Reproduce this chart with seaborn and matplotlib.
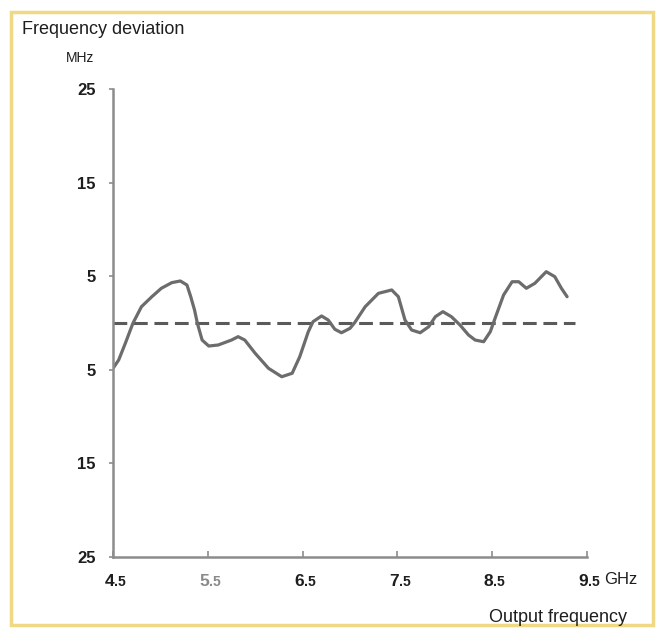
import matplotlib
matplotlib.use("Agg")
import matplotlib.pyplot as plt
from matplotlib.patches import Rectangle
import seaborn as sns
import pandas as pd

# Measured deviation across the output band
freq_ghz = [4.49, 4.56, 4.63, 4.71, 4.80, 4.91, 5.01, 5.12, 5.21, 5.28, 5.32,
            5.36, 5.39, 5.44, 5.51, 5.61, 5.75, 5.82, 5.89, 6.00, 6.14, 6.28,
            6.39, 6.47, 6.56, 6.61, 6.70, 6.77, 6.84, 6.91, 7.00, 7.05, 7.16,
            7.30, 7.44, 7.51, 7.58, 7.65, 7.74, 7.83, 7.90, 7.98, 8.07, 8.16,
            8.25, 8.32, 8.41, 8.48, 8.53, 8.62, 8.71, 8.78, 8.86, 8.95, 9.07,
            9.16, 9.23, 9.29]
deviation_mhz = [-5.0, -3.95, -2.17, -0.03, 1.74, 2.81, 3.71, 4.31, 4.49, 4.06,
                 2.81, 1.39, -0.03, -1.82, -2.46, -2.35, -1.82, -1.46, -1.82,
                 -3.24, -4.84, -5.74, -5.37, -3.60, -0.93, 0.14, 0.75, 0.32,
                 -0.67, -1.04, -0.57, 0.05, 1.74, 3.17, 3.53, 2.81, 0.32, -0.75,
                 -1.04, -0.40, 0.67, 1.21, 0.67, -0.21, -1.28, -1.82, -2.00,
                 -0.93, 0.50, 2.99, 4.41, 4.41, 3.71, 4.24, 5.48, 4.95, 3.71,
                 2.81]

reference_x = [4.5, 9.37]
reference_y = [0.0, 0.0]

y_ticks = [25, 15, 5, -5, -15, -25]
y_tick_labels = ["25", "15", "5", "5", "15", "25"]
x_ticks = [4.5, 5.5, 6.5, 7.5, 8.5, 9.5]
x_tick_whole = ["4", "5", "6", "7", "8", "9"]
x_tick_frac = [".5", ".5", ".5", ".5", ".5", ".5"]

sns.set_theme(style="white")
plt.rcParams["font.family"] = ["Liberation Sans", "DejaVu Sans"]

INK = "#1e1e1e"
AXIS = "#8c8c8c"

W, H = 665, 628
fig = plt.figure(figsize=(W / 100, H / 100), dpi=100)
fig.patch.set_facecolor("white")

ax = fig.add_axes([113 / W, (H - 557) / H, (587 - 113) / W, (557 - 89) / H])
ax.set_facecolor("none")

curve = pd.DataFrame({"freq": freq_ghz, "dev": deviation_mhz})
ref = pd.DataFrame({"freq": reference_x, "dev": reference_y})

sns.lineplot(data=ref, x="freq", y="dev", ax=ax, color="#5a5a5a",
             linewidth=2.2, linestyle=(0, (4.5, 2.2)))
sns.lineplot(data=curve, x="freq", y="dev", ax=ax, color="#6c6c6c",
             linewidth=2.3, solid_capstyle="round", solid_joinstyle="round")

ax.set_xlim(4.5, 9.5)
ax.set_ylim(-25, 25)
ax.set_xlabel("")
ax.set_ylabel("")

for side in ["top", "right"]:
    ax.spines[side].set_visible(False)
for side in ["left", "bottom"]:
    ax.spines[side].set_color(AXIS)
    ax.spines[side].set_linewidth(1.8)

ax.set_yticks(y_ticks)
ax.set_yticklabels(y_tick_labels, fontsize=12, fontweight="bold", color=INK)
ax.tick_params(axis="y", direction="out", length=3, width=1.2, color=AXIS,
               pad=9.5, left=True)

# X tick labels: large whole number followed by a smaller ".5"
ax.set_xticks(x_ticks)
ax.set_xticklabels([])
ax.tick_params(axis="x", direction="in", length=4, width=1.2, color=AXIS,
               bottom=True)
for i, (v, whole, frac) in enumerate(zip(x_ticks, x_tick_whole, x_tick_frac)):
    col = "#8a8a8a" if i == 1 else INK
    ax.annotate(whole, xy=(v, 0), xycoords=("data", "axes fraction"),
                xytext=(0.8, -21), textcoords="offset points", ha="right",
                va="baseline", fontsize=12.5, fontweight="bold", color=col)
    ax.annotate(frac, xy=(v, 0), xycoords=("data", "axes fraction"),
                xytext=(0.8, -21), textcoords="offset points", ha="left",
                va="baseline", fontsize=10, fontweight="bold", color=col)

fig.text(22 / W, 1 - 30 / H, "Frequency deviation", fontsize=13, color=INK,
         ha="left", va="center")
fig.text(66 / W, 1 - 58 / H, "MHz", fontsize=10, color=INK, ha="left", va="center")
fig.text(604 / W, 1 - 580 / H, "GHz", fontsize=12, color=INK, ha="left", va="center")
fig.text(627 / W, 1 - 617 / H, "Output frequency", fontsize=13, color=INK,
         ha="right", va="center")

# Pale yellow frame around the figure
fig.patches.append(Rectangle((11 / W, 1 - 625 / H), (653 - 11) / W, (625 - 12) / H,
                             transform=fig.transFigure, fill=False,
                             edgecolor="#f0d985", linewidth=2.5))

fig.savefig("out.png", dpi=100, facecolor="white")
